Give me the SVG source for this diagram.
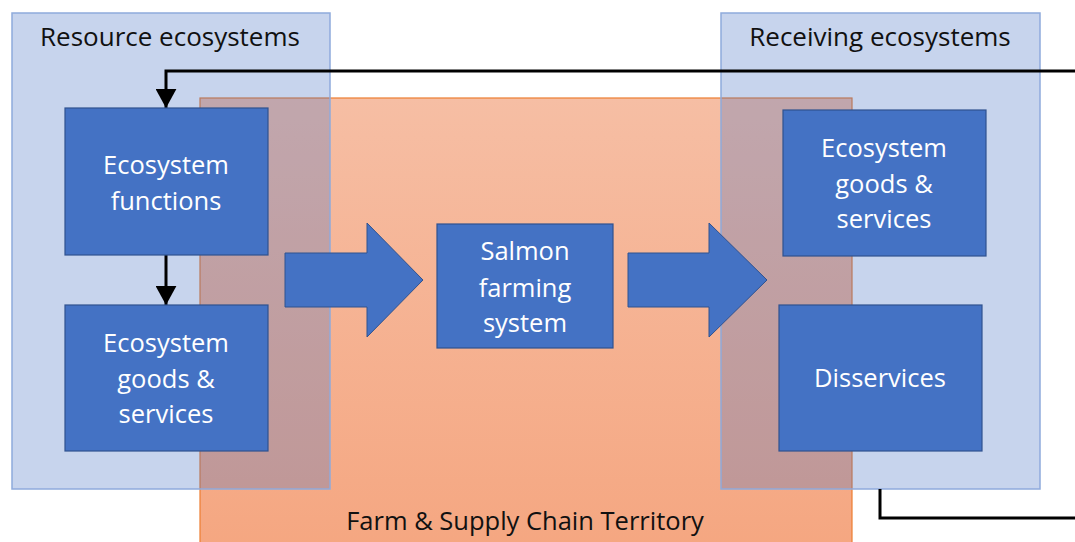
<svg xmlns="http://www.w3.org/2000/svg" width="1075" height="542" viewBox="0 0 1075 542">
<style>
.t{font-family:"Open Sans","Liberation Sans",sans-serif;font-size:25.5px;text-anchor:middle}
.h{font-size:26px}
.w{fill:#ffffff}
.k{fill:#111111}
.node{fill:#4472C4;stroke:#2F528F;stroke-width:1.2}
.cont{fill:#4472C4;fill-opacity:0.3;stroke:#8FAADC;stroke-width:1.5}
.con{fill:none;stroke:#000;stroke-width:3}
</style>
<defs>
<linearGradient id="og" x1="0" y1="0" x2="0" y2="1">
<stop offset="0" stop-color="#F6BEA4"/>
<stop offset="1" stop-color="#F5A680"/>
</linearGradient>
<marker id="ah" markerWidth="6.4" markerHeight="7" refX="6.4" refY="3.5" orient="auto" markerUnits="strokeWidth" viewBox="0 0 6.4 7">
<path d="M0,0 L6.4,3.5 L0,7 z" fill="#000"/>
</marker>
</defs>
<rect width="1075" height="542" fill="#fff"/>
<g id="territory">
<rect x="200" y="98" width="652" height="460" fill="url(#og)" stroke="#ED7D31" stroke-width="1.2"/>
<text class="t k" x="525" y="530">Farm &amp; Supply Chain Territory</text>
</g>
<g id="resource">
<rect class="cont" x="12" y="13" width="318" height="476"/>
<text class="t k h" x="170" y="46">Resource ecosystems</text>
</g>
<g id="receiving">
<rect class="cont" x="721" y="13" width="319" height="476"/>
<text class="t k h" x="880" y="46">Receiving ecosystems</text>
</g>
<g id="connectors">
<path class="con" d="M1075,71 L166,71 L166,108" marker-end="url(#ah)"/>
<path class="con" d="M166,255 L166,305" marker-end="url(#ah)"/>
<path class="con" d="M880,489 L880,518 L1075,518"/>
<path d="M285,253 L367,253 L367,223 L423,280 L367,337 L367,307 L285,307 z" fill="#4472C4" stroke="#2F528F" stroke-width="1"/>
<path d="M628,253 L709,253 L709,223 L767,280 L709,337 L709,307 L628,307 z" fill="#4472C4" stroke="#2F528F" stroke-width="1"/>
</g>
<g id="eco-functions">
<rect class="node" x="65" y="108" width="203" height="147"/>
<text class="t w" x="166" y="174">Ecosystem</text>
<text class="t w" x="166" y="210">functions</text>
</g>
<g id="eco-goods-left">
<rect class="node" x="65" y="305" width="203" height="146"/>
<text class="t w" x="166" y="352">Ecosystem</text>
<text class="t w" x="166" y="388">goods &amp;</text>
<text class="t w" x="166" y="423">services</text>
</g>
<g id="salmon">
<rect class="node" x="437" y="224" width="176" height="124"/>
<text class="t w" x="525" y="260">Salmon</text>
<text class="t w" x="525" y="297">farming</text>
<text class="t w" x="525" y="332">system</text>
</g>
<g id="eco-goods-right">
<rect class="node" x="783" y="110" width="203" height="146"/>
<text class="t w" x="884" y="157">Ecosystem</text>
<text class="t w" x="884" y="193">goods &amp;</text>
<text class="t w" x="884" y="228">services</text>
</g>
<g id="disservices">
<rect class="node" x="779" y="305" width="203" height="146"/>
<text class="t w" x="880" y="387">Disservices</text>
</g>
</svg>
